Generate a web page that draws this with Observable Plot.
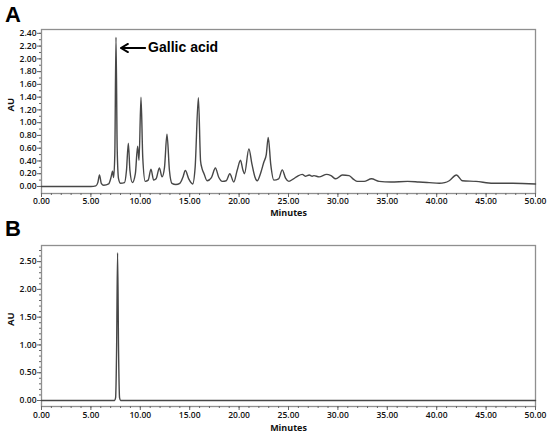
<!DOCTYPE html>
<html><head><meta charset="utf-8">
<script src="https://cdn.jsdelivr.net/npm/d3@7"></script>
<script src="https://cdn.jsdelivr.net/npm/@observablehq/plot@0.6"></script>
<style>
body{margin:0;background:#fff;}
#wrap{position:relative;width:550px;height:437px;}
.panel{position:absolute;left:0;}
.letter{position:absolute;left:5px;font:bold 22px "Liberation Sans",Arial,sans-serif;line-height:22px;color:#000;}
</style></head><body>
<div id="wrap"></div>
<script>
// Panel A chromatogram (Minutes, AU)
const timeA = [0,5.0,5.5,5.7,5.87,6.05,6.3,6.8,7.05,7.19,7.3,7.42,7.54,7.66,7.8,8.0,8.4,8.6,8.79,8.95,9.2,9.5,9.73,9.87,10.07,10.25,10.5,10.8,11.08,11.35,11.6,11.93,12.2,12.45,12.7,12.95,13.2,13.6,14.0,14.3,14.56,14.9,15.3,15.55,15.88,16.1,16.25,16.45,16.76,17.2,17.6,17.95,18.3,18.7,19.06,19.46,19.8,20.14,20.4,20.55,20.99,21.3,21.6,21.83,22.2,22.5,22.75,22.95,23.2,23.52,24.0,24.37,24.7,25.04,25.5,25.9,26.4,26.7,27.1,27.4,27.58,28.1,28.86,29.3,29.78,30.45,31.13,31.6,31.98,32.65,33.4,34.17,35.36,37.05,38.2,39.24,40.26,40.8,41.27,42.0,42.6,43.97,45.7,47.7,50];
const auA = [0,0,0.01,0.06,0.18,0.05,0.02,0.04,0.15,0.24,0.14,0.5,2.34,0.6,0.12,0.05,0.06,0.25,0.68,0.25,0.06,0.2,0.63,0.41,1.40,0.45,0.08,0.1,0.27,0.1,0.12,0.29,0.15,0.3,0.82,0.25,0.05,0.03,0.05,0.14,0.25,0.12,0.04,0.3,1.39,0.4,0.28,0.2,0.09,0.14,0.29,0.14,0.08,0.09,0.2,0.07,0.25,0.41,0.25,0.2,0.59,0.35,0.15,0.09,0.22,0.38,0.5,0.77,0.35,0.10,0.12,0.26,0.13,0.08,0.12,0.16,0.19,0.16,0.18,0.16,0.17,0.15,0.19,0.17,0.12,0.18,0.17,0.11,0.08,0.08,0.12,0.08,0.07,0.08,0.07,0.06,0.05,0.06,0.09,0.18,0.09,0.08,0.05,0.05,0.04];
// Panel B chromatogram (gallic acid standard)
const timeB = [0,7.4,7.5,7.6,7.7,7.8,7.9,8.0,50];
const auB = [0,0,0.05,0.9,2.66,0.9,0.05,0,0];
// Axis ticks
const xMajor = [0,5,10,15,20,25,30,35,40,45,50];
const xMinor = d3.range(0,51,1);
const yMajorA = [0,0.2,0.4,0.6,0.8,1.0,1.2,1.4,1.6,1.8,2.0,2.2,2.4];
const yMinorA = d3.range(0,24.5,1).map(d=>d/10);
const yMajorB = [0,0.5,1.0,1.5,2.0,2.5];
const yMinorB = d3.range(0,28,1).map(d=>d/10);
const annotationLabel = "Gallic acid";

const fmt = d3.format(".2f");
const font = "Open Sans";

function panel({times, values, yDomain, yMajor, yMinor, height, marginTop, marginBottom, tickPad, labelDy, extra = []}) {
  const data = times.map((t,i)=>({t, v: values[i]}));
  return Plot.plot({
    width: 550, height, marginLeft: 41, marginRight: 15, marginTop, marginBottom,
    style: {fontFamily: font, fontSize: "8.5px", fontWeight: 600, color: "#111", background: "transparent", overflow: "visible"},
    x: {domain: [0,50]},
    y: {domain: yDomain},
    marks: [
      Plot.frame({stroke: "#8f8f8f", strokeWidth: 1.3}),
      Plot.axisX({ticks: xMinor, tickSize: 2, tickFormat: () => "", label: null, stroke: "#666"}),
      Plot.axisX({ticks: xMajor, tickSize: 4, tickFormat: fmt, label: null, tickPadding: tickPad, stroke: "#666"}),
      Plot.axisY({ticks: yMinor, tickSize: 2, tickFormat: () => "", label: null, stroke: "#666"}),
      Plot.axisY({ticks: yMajor, tickSize: 4, tickFormat: fmt, label: null, tickPadding: 1, stroke: "#666"}),
      Plot.line(data, {x: "t", y: "v", stroke: "#474747", strokeWidth: 1.4, curve: "monotone-x"}),
      Plot.text(["Minutes"], {text: d => d, frameAnchor: "bottom", lineAnchor: "top", dy: labelDy, fontSize: 9, fontWeight: 700}),
      Plot.text(["AU"], {text: d => d, frameAnchor: "left", dx: -31, rotate: -90, fontSize: 9.5, fontWeight: 700}),
      ...extra
    ]
  });
}

const gi = auA.indexOf(d3.max(auA));
const gallic = [{label: annotationLabel, t: timeA[gi], v: auA[gi]}];

const plotA = panel({
  times: timeA, values: auA, yDomain: [-0.11, 2.46], yMajor: yMajorA, yMinor: yMinorA,
  height: 218, marginTop: 29, marginBottom: 25, tickPad: 0, labelDy: 16,
  extra: [
    Plot.arrow(gallic, {x1: d => d.t + 2.95, y1: d => d.v - 0.17, x2: d => d.t + 0.5, y2: d => d.v - 0.17, stroke: "#000", strokeWidth: 2, headLength: 8}),
    Plot.text(gallic, {x: d => d.t + 3.25, y: d => d.v - 0.17, text: "label", textAnchor: "start", fontSize: 14, fontWeight: "bold", fontFamily: "Liberation Sans", fill: "#000"})
  ]
});
const plotB = panel({
  times: timeB, values: auB, yDomain: [-0.108, 2.79], yMajor: yMajorB, yMinor: yMinorB,
  height: 219, marginTop: 27, marginBottom: 31, tickPad: 1, labelDy: 18
});

const wrap = document.getElementById("wrap");
plotA.classList.add("panel"); plotA.style.top = "0px";
plotB.classList.add("panel"); plotB.style.top = "218px";
wrap.appendChild(plotA); wrap.appendChild(plotB);
for (const [txt, top] of [["A", 4], ["B", 218]]) {
  const d = document.createElement("div");
  d.className = "letter"; d.textContent = txt; d.style.top = top + "px";
  wrap.appendChild(d);
}
</script>
</body></html>
